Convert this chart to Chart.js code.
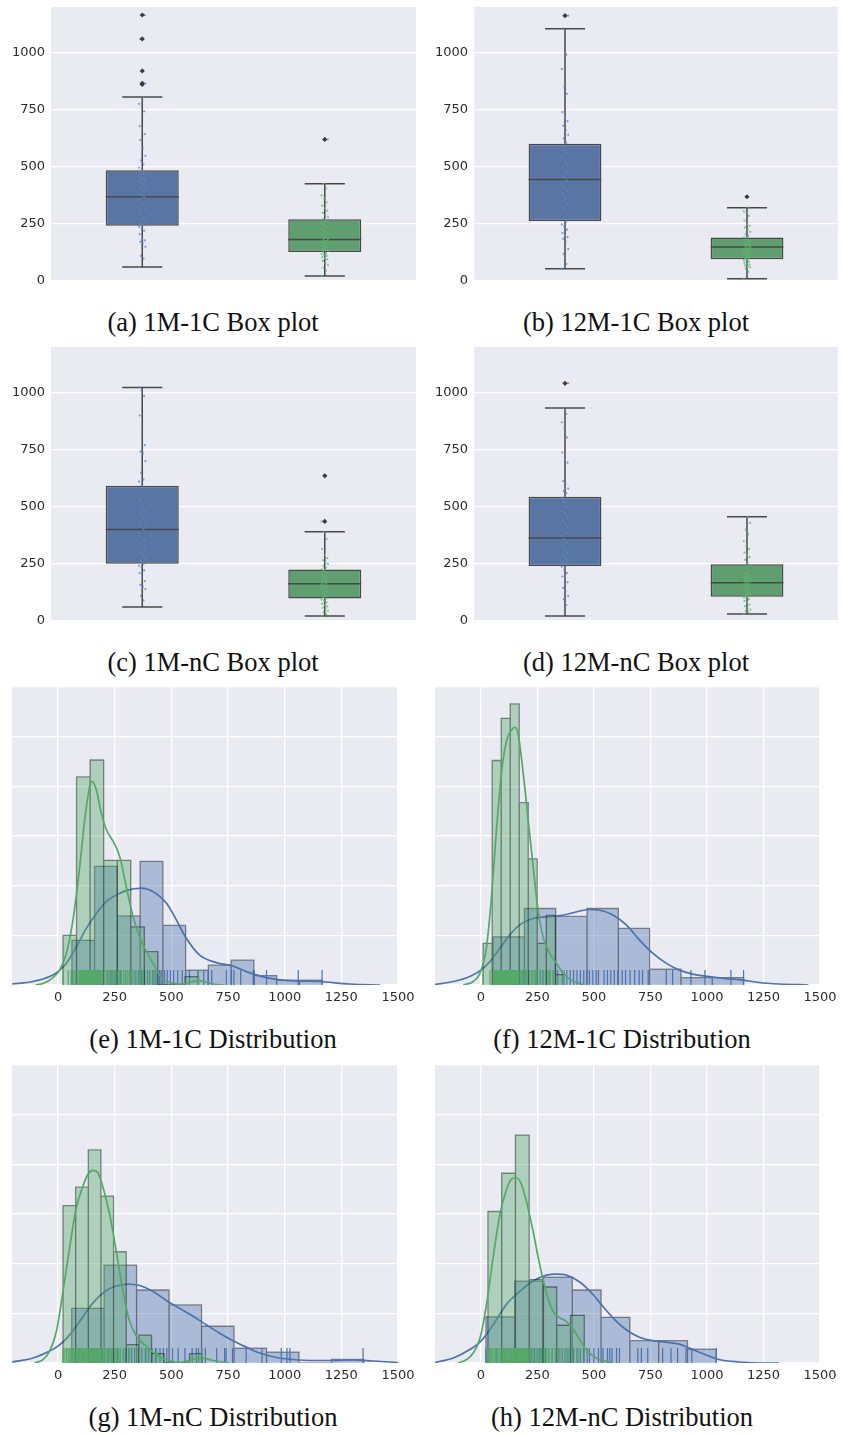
<!DOCTYPE html>
<html>
<head>
<meta charset="utf-8">
<title>Box plots and distributions</title>
<script src="https://cdn.jsdelivr.net/npm/chart.js@4.4.1/dist/chart.umd.min.js"></script>
<style>
  html, body { margin: 0; padding: 0; background: #fff; }
  body { width: 841px; height: 1435px; position: relative; overflow: hidden; }
  canvas { position: absolute; }
  .cap {
    position: absolute; width: 420px; text-align: center; white-space: nowrap;
    font-family: "Liberation Serif", "DejaVu Serif", serif; font-size: 26.5px;
    line-height: 30px; color: #111;
  }
</style>
</head>
<body>
<canvas id="boxA" width="420" height="296" style="left:0;top:0"></canvas>
<canvas id="boxB" width="421" height="296" style="left:420px;top:0"></canvas>
<canvas id="boxC" width="420" height="296" style="left:0;top:340px"></canvas>
<canvas id="boxD" width="421" height="296" style="left:420px;top:340px"></canvas>
<canvas id="distA" width="420" height="330" style="left:0;top:680px"></canvas>
<canvas id="distB" width="421" height="330" style="left:420px;top:680px"></canvas>
<canvas id="distC" width="420" height="330" style="left:0;top:1058px"></canvas>
<canvas id="distD" width="421" height="330" style="left:420px;top:1058px"></canvas>

<div class="cap" style="left:3px;top:307px">(a) 1M-1C Box plot</div>
<div class="cap" style="left:426px;top:307px">(b) 12M-1C Box plot</div>
<div class="cap" style="left:3px;top:647px">(c) 1M-nC Box plot</div>
<div class="cap" style="left:426px;top:647px">(d) 12M-nC Box plot</div>
<div class="cap" style="left:3px;top:1024px">(e) 1M-1C Distribution</div>
<div class="cap" style="left:412px;top:1024px">(f) 12M-1C Distribution</div>
<div class="cap" style="left:3px;top:1402px">(g) 1M-nC Distribution</div>
<div class="cap" style="left:412px;top:1402px">(h) 12M-nC Distribution</div>

<script>
// ---- axes ----
const groups = [0, 1];                       // blue, green
const boxTicks = [0, 250, 500, 750, 1000];
const boxRange = [0, 1200];
const distTicks = [0, 250, 500, 750, 1000, 1250, 1500];
const distRange = [-203, 1500];
const densityTicks = [0, 1, 2, 3, 4, 5, 6];  // density x 1e-3

// ---- box stats: [low whisker, q1, median, q3, high whisker] ----
const box1M1CBlue = [61, 242, 369, 485, 806];
const box1M1CGreen = [22, 127, 182, 270, 426];
const fliers1M1CBlue = [861, 866, 920, 1060, 1165];
const fliers1M1CGreen = [620];

const box12M1CBlue = [54, 263, 444, 601, 1105];
const box12M1CGreen = [10, 95, 149, 191, 321];
const fliers12M1CBlue = [1162];
const fliers12M1CGreen = [369];

const box1MnCBlue = [61, 251, 401, 592, 1023];
const box1MnCGreen = [22, 98, 163, 226, 391];
const fliers1MnCBlue = [1346];
const fliers1MnCGreen = [436, 636];

const box12MnCBlue = [22, 241, 364, 544, 933];
const box12MnCGreen = [31, 106, 168, 249, 457];
const fliers12MnCBlue = [1041];
const fliers12MnCGreen = [];

// ---- samples (strip points and rug) ----
const samples1M1CBlue = [61, 98, 110, 150, 165, 172, 178, 185, 205, 220, 232, 238, 245, 252, 260, 275, 298, 318, 340, 355, 368, 375, 382, 395, 405, 418, 425, 432, 440, 448, 455, 470, 482, 496, 510, 528, 548, 580, 617, 643, 662, 678, 743, 765, 776, 806, 861, 866, 920, 1060, 1165];
const samples1M1CGreen = [22, 45, 58, 70, 78, 88, 95, 100, 105, 110, 114, 118, 122, 127, 132, 136, 140, 145, 150, 155, 160, 165, 170, 175, 180, 184, 190, 196, 205, 215, 225, 235, 245, 252, 265, 272, 280, 290, 298, 308, 318, 330, 345, 362, 375, 405, 426, 620];
const samples12M1CBlue = [54, 75, 118, 140, 172, 185, 192, 200, 210, 225, 240, 248, 262, 275, 290, 305, 320, 340, 360, 380, 395, 410, 425, 440, 455, 468, 480, 495, 510, 520, 545, 560, 575, 590, 605, 625, 640, 660, 680, 700, 715, 740, 820, 848, 929, 991, 1106, 1162];
const samples12M1CGreen = [10, 40, 55, 60, 64, 68, 72, 76, 80, 84, 88, 92, 96, 100, 104, 108, 112, 116, 120, 124, 128, 132, 136, 140, 144, 148, 152, 156, 160, 164, 168, 175, 182, 190, 198, 205, 215, 225, 235, 242, 248, 265, 285, 298, 305, 321, 369];
const samples1MnCBlue = [61, 90, 110, 140, 150, 158, 175, 195, 210, 222, 235, 242, 250, 262, 275, 288, 300, 312, 325, 338, 355, 370, 385, 400, 415, 430, 450, 465, 480, 505, 530, 560, 592, 610, 620, 650, 700, 735, 742, 770, 830, 900, 985, 1010, 1023, 1346];
const samples1MnCGreen = [22, 30, 38, 45, 52, 58, 64, 70, 75, 82, 88, 94, 98, 104, 110, 116, 122, 128, 136, 142, 148, 154, 160, 164, 168, 172, 178, 184, 188, 195, 202, 210, 218, 226, 234, 240, 250, 258, 266, 275, 290, 315, 360, 391, 436, 636];
const samples12MnCBlue = [22, 70, 95, 110, 130, 145, 170, 190, 195, 210, 225, 238, 248, 258, 266, 272, 285, 300, 315, 330, 345, 360, 372, 385, 395, 410, 425, 440, 455, 470, 480, 500, 520, 540, 560, 570, 580, 600, 613, 694, 710, 738, 804, 841, 870, 907, 933, 1041];
const samples12MnCGreen = [31, 38, 44, 50, 58, 65, 72, 80, 88, 95, 100, 104, 108, 112, 118, 124, 130, 136, 142, 148, 152, 156, 160, 164, 168, 172, 176, 180, 185, 190, 195, 200, 206, 212, 220, 232, 245, 255, 268, 280, 290, 300, 315, 330, 350, 380, 400, 430, 457];

// ---- histograms: [first edge, bin width], heights (density x 1e-3) ----
const bins1M1CBlue = [61, 100.4];
const hist1M1CBlue = [0.90, 2.39, 1.39, 2.49, 1.20, 0.30, 0.40, 0.50, 0.19, 0.10, 0.10];
const bins1M1CGreen = [22, 59.8];
const hist1M1CGreen = [1.00, 4.19, 4.53, 2.51, 2.51, 1.17, 0.67, 0, 0, 0.17];

const bins12M1CBlue = [54, 138.5];
const hist12M1CBlue = [0.97, 1.54, 1.38, 1.54, 1.14, 0.32, 0.15, 0.15];
const bins12M1CGreen = [10, 39.9];
const hist12M1CGreen = [0.84, 4.52, 5.37, 5.66, 3.67, 2.54, 0.84, 1.40, 0.21];

const bins1MnCBlue = [60, 143.3];
const hist1MnCBlue = [1.10, 1.97, 1.47, 1.17, 0.74, 0.30, 0.22, 0, 0.07];
const bins1MnCGreen = [22, 55.8];
const hist1MnCGreen = [3.17, 3.54, 4.29, 3.36, 2.24, 0.37, 0.56, 0.19, 0, 0, 0.19];

const bins12MnCBlue = [22, 127.4];
const hist12MnCBlue = [0.93, 1.65, 1.73, 1.47, 0.92, 0.45, 0.45, 0.28];
const bins12MnCGreen = [31, 60.9];
const hist12MnCGreen = [3.05, 3.82, 4.59, 1.68, 1.53, 0.76, 0.96];

// ---- kde curves (density x 1e-3) ----
const kdeX1M1CBlue = [-203, -110, -37, 0, 37, 81, 125, 169, 213, 257, 301, 368, 419, 478, 522, 566, 625, 699, 772, 831, 919, 993, 1066, 1154, 1287, 1422];
const kdeY1M1CBlue = [0.02, 0.07, 0.17, 0.27, 0.44, 0.77, 1.14, 1.44, 1.68, 1.81, 1.90, 1.95, 1.88, 1.65, 1.31, 0.94, 0.60, 0.45, 0.38, 0.27, 0.15, 0.10, 0.08, 0.07, 0.02, 0];
const kdeX1M1CGreen = [-99, -66, -22, 7, 37, 66, 96, 118, 140, 151, 169, 191, 213, 243, 272, 301, 331, 360, 390, 419, 449, 478, 551, 618, 684, 735];
const kdeY1M1CGreen = [0, 0.03, 0.15, 0.30, 0.64, 1.31, 2.39, 3.33, 4.00, 4.10, 3.93, 3.46, 3.13, 2.89, 2.59, 1.98, 1.38, 0.97, 0.67, 0.44, 0.20, 0.07, 0.02, 0.09, 0.02, 0];

const kdeX12M1CBlue = [-203, -122, -49, 0, 40, 84, 128, 172, 216, 260, 319, 378, 437, 481, 532, 584, 643, 701, 760, 819, 878, 937, 1010, 1084, 1157, 1231, 1319, 1449];
const kdeY12M1CBlue = [0.01, 0.07, 0.17, 0.30, 0.47, 0.74, 1.01, 1.21, 1.32, 1.36, 1.38, 1.42, 1.49, 1.52, 1.50, 1.41, 1.21, 0.91, 0.64, 0.44, 0.30, 0.22, 0.17, 0.13, 0.10, 0.05, 0.02, 0];
const kdeX12M1CGreen = [-78, -34, -4, 25, 47, 69, 91, 113, 135, 150, 165, 187, 209, 231, 253, 275, 304, 334, 363, 407, 459];
const kdeY12M1CGreen = [0, 0.07, 0.24, 0.77, 1.78, 3.13, 4.27, 4.91, 5.13, 5.19, 5.04, 4.27, 3.33, 2.39, 1.51, 0.97, 0.64, 0.44, 0.24, 0.08, 0];

const kdeX1MnCBlue = [-203, -110, -37, 0, 37, 96, 154, 213, 257, 309, 360, 419, 478, 537, 596, 654, 713, 772, 831, 890, 963, 1037, 1125, 1213, 1301, 1390, 1500];
const kdeY1MnCBlue = [0.02, 0.10, 0.24, 0.34, 0.49, 0.84, 1.21, 1.46, 1.55, 1.59, 1.56, 1.44, 1.26, 1.10, 0.94, 0.77, 0.60, 0.45, 0.32, 0.20, 0.11, 0.07, 0.05, 0.05, 0.06, 0.04, 0.01];
const kdeX1MnCGreen = [-103, -66, -37, -7, 22, 51, 81, 110, 132, 154, 176, 199, 228, 257, 287, 316, 346, 390, 434, 478, 537, 596, 637, 684, 757];
const kdeY1MnCGreen = [0, 0.07, 0.24, 0.64, 1.44, 2.32, 3.13, 3.56, 3.80, 3.88, 3.83, 3.53, 2.99, 2.25, 1.44, 0.84, 0.54, 0.34, 0.17, 0.06, 0.01, 0.07, 0.10, 0.05, 0];

const kdeX12MnCBlue = [-203, -122, -49, 0, 54, 113, 172, 231, 290, 334, 378, 437, 496, 532, 584, 643, 701, 760, 819, 878, 922, 981, 1054, 1143, 1231, 1319];
const kdeY12MnCBlue = [0.01, 0.10, 0.27, 0.44, 0.77, 1.18, 1.44, 1.65, 1.77, 1.79, 1.77, 1.63, 1.38, 1.18, 0.91, 0.67, 0.52, 0.45, 0.42, 0.38, 0.30, 0.19, 0.07, 0.02, 0, 0];
const kdeX12MnCGreen = [-100, -63, -34, -4, 25, 54, 84, 113, 135, 157, 179, 201, 231, 260, 290, 319, 349, 378, 407, 437, 466, 510, 554, 584];
const kdeY12MnCGreen = [0, 0.07, 0.20, 0.50, 1.18, 2.12, 2.99, 3.49, 3.70, 3.73, 3.60, 3.26, 2.65, 1.98, 1.41, 1.04, 0.91, 0.84, 0.69, 0.47, 0.27, 0.10, 0.03, 0];

// ---- style ----
const BLUE = '#4C72B0';
const GREEN = '#55A868';
const BOX_FILL = ['#5975a4', '#5f9e6e'];
const EDGE = '#484848';
const PANEL = '#EAEAF2';
const RUG_H = 0.3;

Chart.defaults.font.family = '"DejaVu Sans", sans-serif';
Chart.defaults.font.size = 13;
Chart.defaults.color = '#2b2b2b';

const panelBg = {
  id: 'panelBg',
  beforeDraw(chart) {
    const { ctx, chartArea: a } = chart;
    ctx.save();
    ctx.fillStyle = PANEL;
    ctx.fillRect(a.left, a.top, a.right - a.left, a.bottom - a.top);
    ctx.restore();
  }
};

const setTicks = values => s => { s.ticks = values.map(v => ({ value: v })); };
const jitter = i => ((i * 7) % 11 - 5) * 0.0035;
const zip = (xs, ys) => xs.map((x, i) => ({ x, y: ys[i] }));

// fixed axis thickness, no extra label padding
const fixSize = (prop, size) => s => {
  s[prop] = size;
  s.paddingTop = s.paddingBottom = s.paddingLeft = s.paddingRight = 0;
};

function boxLines(st, cx) {
  const [lo, q1, med, q3, hi] = st;
  const cap = 0.11, half = 0.2;
  return [
    { x: cx, y: lo }, { x: cx, y: q1 }, { x: cx, y: null },
    { x: cx, y: q3 }, { x: cx, y: hi }, { x: cx, y: null },
    { x: cx - cap, y: lo }, { x: cx + cap, y: lo }, { x: cx, y: null },
    { x: cx - cap, y: hi }, { x: cx + cap, y: hi }, { x: cx, y: null },
    { x: cx - half, y: med }, { x: cx + half, y: med }, { x: cx, y: null }
  ];
}

function pointsDs(data, color, radius, style) {
  return {
    type: 'line', data, showLine: false, pointRadius: radius, pointStyle: style,
    pointBackgroundColor: color, pointBorderWidth: 0
  };
}

function baseOptions(pad, xAxis, yAxis) {
  return {
    responsive: false, animation: false, events: [],
    layout: { padding: pad, autoPadding: false },
    plugins: { legend: { display: false }, tooltip: { enabled: false } },
    scales: { x: xAxis, y: yAxis }
  };
}

function ordered(datasets) {
  datasets.forEach((d, i) => { d.order = -i; });
  return datasets;
}

function boxChart(id, blue, green, fliersBlue, fliersGreen, sampBlue, sampGreen, yWidth, padRight) {
  const datasets = ordered([
    {
      type: 'bar',
      data: [{ x: groups[0], y: [blue[1], blue[3]] }, { x: groups[1], y: [green[1], green[3]] }],
      backgroundColor: BOX_FILL, borderColor: EDGE, borderWidth: 1.5, borderSkipped: false,
      barPercentage: 0.4, categoryPercentage: 1
    },
    {
      type: 'line', data: boxLines(blue, groups[0]).concat(boxLines(green, groups[1])),
      borderColor: EDGE, borderWidth: 1.5, pointRadius: 0, fill: false, spanGaps: false, tension: 0
    },
    pointsDs(sampBlue.map((v, i) => ({ x: groups[0] + jitter(i), y: v })), 'rgba(95,135,200,0.8)', 1.1, 'circle'),
    pointsDs(sampGreen.map((v, i) => ({ x: groups[1] + jitter(i), y: v })), 'rgba(95,185,115,0.8)', 1.1, 'circle'),
    pointsDs(fliersBlue.map(v => ({ x: groups[0], y: v })), '#3c3c3c', 2.6, 'rectRot'),
    pointsDs(fliersGreen.map(v => ({ x: groups[1], y: v })), '#3c3c3c', 2.6, 'rectRot')
  ]);
  new Chart(document.getElementById(id), {
    type: 'bar',
    data: { datasets },
    options: baseOptions(
      { top: 7, right: padRight, left: 0, bottom: 0 },
      {
        type: 'linear', min: -0.5, max: 1.5, offset: false,
        afterBuildTicks: setTicks(groups),
        ticks: { display: false }, grid: { display: false }, border: { display: false },
        afterFit: fixSize('height', 15)
      },
      {
        type: 'linear', min: boxRange[0], max: boxRange[1],
        afterBuildTicks: setTicks(boxTicks),
        ticks: { padding: 6, callback: v => String(v) },
        grid: { color: '#ffffff', lineWidth: 1.3, drawTicks: false },
        border: { display: false },
        afterFit: fixSize('width', yWidth)
      }
    ),
    plugins: [panelBg]
  });
}

function histTrace(bins, heights) {
  const [start, width] = bins;
  const pts = [{ x: start, y: 0 }];
  heights.forEach((h, i) => {
    const x0 = start + i * width, x1 = x0 + width;
    pts.push({ x: x0, y: h }, { x: x1, y: h }, { x: x1, y: 0 });
  });
  return pts;
}

function seriesSets(bins, heights, kdeX, kdeY, samples, color, fill) {
  return [
    {
      data: histTrace(bins, heights), borderColor: 'rgba(0,0,0,0.42)', borderWidth: 1.3,
      backgroundColor: fill, fill: 'origin', pointRadius: 0, tension: 0
    },
    {
      data: zip(kdeX, kdeY), borderColor: color, borderWidth: 1.7, fill: false,
      pointRadius: 0, cubicInterpolationMode: 'monotone'
    },
    {
      data: samples.flatMap(v => [{ x: v, y: 0 }, { x: v, y: RUG_H }, { x: v, y: null }]),
      borderColor: color, borderWidth: 1.2, fill: false, pointRadius: 0, spanGaps: false
    }
  ];
}

function distChart(id, blueSets, greenSets, padLeft, padRight) {
  const datasets = ordered(blueSets.concat(greenSets));
  new Chart(document.getElementById(id), {
    type: 'line',
    data: { datasets },
    options: baseOptions(
      { top: 7, right: padRight, left: padLeft, bottom: 0 },
      {
        type: 'linear', min: distRange[0], max: distRange[1],
        afterBuildTicks: setTicks(distTicks),
        ticks: { padding: 5, autoSkip: false, maxRotation: 0, callback: v => String(v) },
        grid: { color: '#ffffff', lineWidth: 1.3, drawTicks: false },
        border: { display: false },
        afterFit: fixSize('height', 25)
      },
      {
        type: 'linear', min: densityTicks[0], max: densityTicks[densityTicks.length - 1],
        afterBuildTicks: setTicks(densityTicks),
        ticks: { display: false },
        grid: { color: '#ffffff', lineWidth: 1.3, drawTicks: false },
        border: { display: false },
        afterFit: fixSize('width', 0)
      }
    ),
    plugins: [panelBg]
  });
}

const fillBlue = 'rgba(76,114,176,0.4)';
const fillGreen = 'rgba(85,168,104,0.4)';

boxChart('boxA', box1M1CBlue, box1M1CGreen, fliers1M1CBlue, fliers1M1CGreen, samples1M1CBlue, samples1M1CGreen, 51, 4);
boxChart('boxB', box12M1CBlue, box12M1CGreen, fliers12M1CBlue, fliers12M1CGreen, samples12M1CBlue, samples12M1CGreen, 54, 3);
boxChart('boxC', box1MnCBlue, box1MnCGreen, fliers1MnCBlue, fliers1MnCGreen, samples1MnCBlue, samples1MnCGreen, 51, 4);
boxChart('boxD', box12MnCBlue, box12MnCGreen, fliers12MnCBlue, fliers12MnCGreen, samples12MnCBlue, samples12MnCGreen, 54, 3);

distChart('distA',
  seriesSets(bins1M1CBlue, hist1M1CBlue, kdeX1M1CBlue, kdeY1M1CBlue, samples1M1CBlue, BLUE, fillBlue),
  seriesSets(bins1M1CGreen, hist1M1CGreen, kdeX1M1CGreen, kdeY1M1CGreen, samples1M1CGreen, GREEN, fillGreen),
  12, 22);
distChart('distB',
  seriesSets(bins12M1CBlue, hist12M1CBlue, kdeX12M1CBlue, kdeY12M1CBlue, samples12M1CBlue, BLUE, fillBlue),
  seriesSets(bins12M1CGreen, hist12M1CGreen, kdeX12M1CGreen, kdeY12M1CGreen, samples12M1CGreen, GREEN, fillGreen),
  15, 21);
distChart('distC',
  seriesSets(bins1MnCBlue, hist1MnCBlue, kdeX1MnCBlue, kdeY1MnCBlue, samples1MnCBlue, BLUE, fillBlue),
  seriesSets(bins1MnCGreen, hist1MnCGreen, kdeX1MnCGreen, kdeY1MnCGreen, samples1MnCGreen, GREEN, fillGreen),
  12, 22);
distChart('distD',
  seriesSets(bins12MnCBlue, hist12MnCBlue, kdeX12MnCBlue, kdeY12MnCBlue, samples12MnCBlue, BLUE, fillBlue),
  seriesSets(bins12MnCGreen, hist12MnCGreen, kdeX12MnCGreen, kdeY12MnCGreen, samples12MnCGreen, GREEN, fillGreen),
  15, 21);
</script>
</body>
</html>
